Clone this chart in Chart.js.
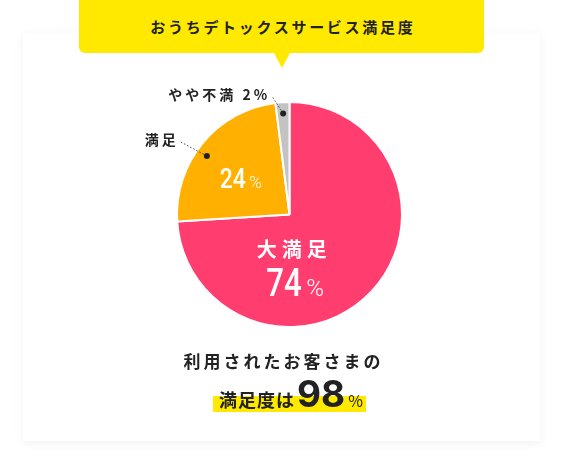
<!DOCTYPE html>
<html lang="ja">
<head>
    <meta charset="UTF-8">
    <title>おうちデトックスサービス満足度</title>
    <style>
        body {
            margin: 0;
            width: 564px;
            height: 468px;
            overflow: hidden;
            background: #fff;
            position: relative;
            font-family: "Noto Sans CJK JP", "Noto Sans", sans-serif;
            color: #222;
        }
        #card {
            position: absolute;
            left: 23px;
            top: 33px;
            width: 517px;
            height: 408px;
            background: #fff;
            box-shadow: 0 2px 10px rgba(0, 0, 0, 0.06);
        }
        #balloon {
            position: absolute;
            left: 79px;
            top: -6px;
            width: 405px;
            height: 59px;
            background: #ffe900;
            border-radius: 6px;
            text-align: center;
            font-weight: 700;
            font-size: 15px;
            letter-spacing: 2.7px;
            line-height: 53px;
            padding-top: 6px;
            box-sizing: border-box;
            text-indent: 2.7px;
        }
        #pointer {
            position: absolute;
            left: 274px;
            top: 53px;
            width: 0;
            height: 0;
            border-left: 8px solid transparent;
            border-right: 8px solid transparent;
            border-top: 15px solid #ffe900;
        }
        #chart-box {
            position: absolute;
            left: 136px;
            top: 61px;
            width: 307px;
            height: 307px;
        }
        #line1 {
            position: absolute;
            left: 0;
            width: 564px;
            top: 351px;
            text-align: center;
            font-size: 17px;
            font-weight: 700;
            letter-spacing: 3px;
            line-height: 20px;
            text-indent: 3px;
        }
        #band {
            position: absolute;
            left: 213px;
            top: 396px;
            width: 153px;
            height: 16px;
            background: #ffe900;
        }
        #line2 {
            position: absolute;
            left: 219px;
            top: 375px;
            display: flex;
            align-items: baseline;
            white-space: nowrap;
            line-height: 1;
        }
        #line2 .jp { font-size: 18px; font-weight: 700; letter-spacing: 1px; }
        #line2 .num { font-family: Inter, Roboto, sans-serif; font-size: 37px; font-weight: 700; margin-left: 2px; }
        #line2 .pct { font-size: 16px; font-weight: 400; margin-left: 3px; }
    </style>
</head>
<body>
    <div id="card"></div>
    <div id="balloon"></div>
    <div id="pointer"></div>
    <div id="chart-box"><canvas id="pie"></canvas></div>
    <div id="line1">利用されたお客さまの</div>
    <div id="band"></div>
    <div id="line2"><span class="jp">満足度は</span><span class="num"></span><span class="pct">%</span></div>

    <script src="https://cdn.jsdelivr.net/npm/chart.js"></script>
    <script>
        // 데이터
        const summaryTitle = 'おうちデトックスサービス満足度';
        const categories = ['大満足', '満足', 'やや不満'];
        const shares = [74, 24, 2];
        const sliceColors = ['#ff3d6f', '#ffb000', '#c3c3c3'];

        document.getElementById('balloon').textContent = summaryTitle;
        document.querySelector('#line2 .num').textContent = shares[0] + shares[1];

        // 숫자 + % (가로로 좁힌 숫자)
        function drawNumber(ctx, num, cx, baseline, size, pctSize) {
            const squeeze = 0.82;
            ctx.font = `500 ${size}px Roboto, sans-serif`;
            const numW = ctx.measureText(num).width * squeeze;
            ctx.font = `300 ${pctSize}px Roboto, sans-serif`;
            const pctW = ctx.measureText('%').width;
            const gap = size * 0.12;
            const left = cx - (numW + gap + pctW) / 2;
            ctx.save();
            ctx.translate(left, baseline);
            ctx.scale(squeeze, 1);
            ctx.font = `500 ${size}px Roboto, sans-serif`;
            ctx.fillText(num, 0, 0);
            ctx.restore();
            ctx.font = `300 ${pctSize}px Roboto, sans-serif`;
            ctx.fillText('%', left + numW + gap, baseline);
        }

        function drawSpaced(ctx, text, x, y, font, spacing, align) {
            ctx.font = font;
            ctx.letterSpacing = spacing + 'px';
            const w = ctx.measureText(text).width - spacing;
            let left = x;
            if (align === 'center') left = x - w / 2;
            if (align === 'right') left = x - w;
            ctx.textAlign = 'left';
            ctx.fillText(text, left, y);
            ctx.letterSpacing = '0px';
        }

        const pieLabels = {
            id: 'pieLabels',
            afterDatasetsDraw(chart) {
                const ctx = chart.ctx;
                const arcs = chart.getDatasetMeta(0).data;
                const pt = (arc, ang, f) => ({
                    x: arc.x + Math.cos(ang) * arc.outerRadius * f,
                    y: arc.y + Math.sin(ang) * arc.outerRadius * f
                });
                ctx.save();
                ctx.textBaseline = 'alphabetic';

                // 대만족 (안쪽)
                const a0 = arcs[0];
                const r0 = a0.outerRadius;
                ctx.fillStyle = '#fff';
                ctx.textBaseline = 'middle';
                drawSpaced(ctx, categories[0], a0.x + r0 * 0.02, a0.y + r0 * 0.31,
                    '700 20px "Noto Sans CJK JP", sans-serif', 5, 'center');
                ctx.textBaseline = 'alphabetic';
                drawNumber(ctx, String(shares[0]), a0.x + r0 * 0.05, a0.y + r0 * 0.72, 38, 24);

                // 만족 (안쪽 숫자)
                const a1 = arcs[1];
                const mid1 = (a1.startAngle + a1.endAngle) / 2;
                const p1 = pt(a1, mid1 - 0.05, 0.54);
                drawNumber(ctx, String(shares[1]), p1.x, p1.y + 10, 28, 17);

                // 바깥 라벨
                const outer = [
                    { i: 1, at: 0.45, dx: -26, dy: -14, text: categories[1] },
                    { i: 2, at: 0.5, dx: -11, dy: -17, text: `${categories[2]} ${shares[2]}%` }
                ];
                outer.forEach(o => {
                    const arc = arcs[o.i];
                    const ang = arc.startAngle + (arc.endAngle - arc.startAngle) * o.at;
                    const d = pt(arc, ang, 0.9);
                    ctx.strokeStyle = '#444';
                    ctx.lineWidth = 1;
                    ctx.setLineDash([1.5, 2]);
                    ctx.beginPath();
                    ctx.moveTo(d.x, d.y);
                    ctx.lineTo(d.x + o.dx, d.y + o.dy);
                    ctx.stroke();
                    ctx.setLineDash([]);
                    ctx.fillStyle = '#222';
                    ctx.beginPath();
                    ctx.arc(d.x, d.y, 3, 0, Math.PI * 2);
                    ctx.fill();
                    ctx.textBaseline = 'middle';
                    drawSpaced(ctx, o.text, d.x + o.dx - 5, d.y + o.dy - 2,
                        '700 14px "Noto Sans CJK JP", sans-serif', 3, 'right');
                });
                ctx.restore();
            }
        };

        new Chart(document.getElementById('pie'), {
            type: 'pie',
            data: {
                labels: categories,
                datasets: [{
                    data: shares,
                    backgroundColor: sliceColors,
                    borderColor: '#fff',
                    borderWidth: 2
                }]
            },
            options: {
                responsive: true,
                maintainAspectRatio: false,
                animation: false,
                layout: { padding: 40 },
                plugins: {
                    legend: { display: false },
                    tooltip: { enabled: false }
                }
            },
            plugins: [pieLabels]
        });
    </script>
</body>
</html>
